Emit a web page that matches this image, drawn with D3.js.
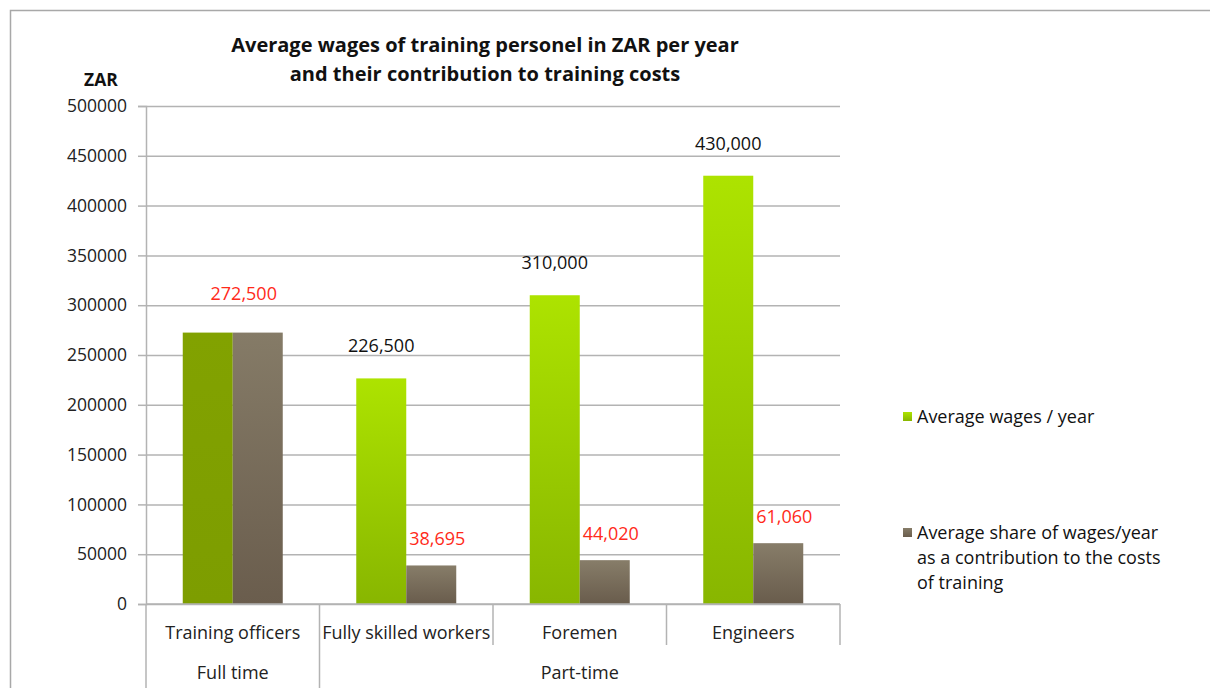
<!DOCTYPE html>
<html>
<head>
<meta charset="utf-8">
<script src="https://cdn.jsdelivr.net/npm/d3@7"></script>
<style>
  html, body { margin: 0; padding: 0; background: #fff; }
  svg { display: block; font-family: "Open Sans", Lato, sans-serif; }
</style>
</head>
<body>
<svg id="chart" width="1210" height="688"></svg>
<script>
// ---- data ----
const categories = ["Training officers", "Fully skilled workers", "Foremen", "Engineers"];
const categoryGroup = ["Full time", "Part-time", "Part-time", "Part-time"];
const groupNames = ["Full time", "Part-time"];
const seriesNames = ["Average wages / year", "Average share of wages/year as a contribution to the costs of training"];
const wages = [272500, 226500, 310000, 430000];
const contribution = [272500, 38695, 44020, 61060];
const yTicks = [0, 50000, 100000, 150000, 200000, 250000, 300000, 350000, 400000, 450000, 500000];
const titleLines = ["Average wages of training personel in ZAR per year", "and their contribution to training costs"];
const yUnit = "ZAR";

// ---- layout ----
const W = 1210, H = 688;
const plot = { left: 146, right: 840, top: 106, bottom: 604 };
const FS = 17.5;
const FL = 18;
const svg = d3.select("#chart");

// gradients
const defs = svg.append("defs");
function grad(id, c1, c2) {
  const g = defs.append("linearGradient").attr("id", id).attr("x1", 0).attr("y1", 0).attr("x2", 0).attr("y2", 1);
  g.append("stop").attr("offset", "0%").attr("stop-color", c1);
  g.append("stop").attr("offset", "100%").attr("stop-color", c2);
}
grad("gGreen", "#ade300", "#88b600");
grad("gBrown", "#877d69", "#695c4c");
grad("gOlive", "#82a200", "#7d9d00");
grad("gBrownFull", "#857b67", "#6a5d4d");

// outer border
svg.append("rect").attr("x", 10.5).attr("y", 10.5).attr("width", W).attr("height", H)
  .attr("fill", "none").attr("stroke", "#a8a8a8").attr("stroke-width", 1.5);

const y = d3.scaleLinear().domain([0, 500000]).range([plot.bottom, plot.top]);
const x0 = d3.scaleBand().domain(categories).range([plot.left, plot.right]).paddingInner(0).paddingOuter(0);
const x1 = d3.scaleBand().domain([0, 1]).range([0, x0.bandwidth()]).paddingInner(0).paddingOuter(0.735);

// gridlines
svg.append("g").attr("transform", `translate(${plot.left},0)`)
  .call(d3.axisLeft(y).tickValues(yTicks).tickSize(-(plot.right - plot.left)).tickFormat(""))
  .call(g => g.select(".domain").remove())
  .call(g => g.selectAll("line").attr("stroke", "#b3b3b3").attr("stroke-width", 1.5));

// y axis
svg.append("g").attr("transform", `translate(${plot.left},0)`)
  .call(d3.axisLeft(y).tickValues(yTicks).tickSize(8).tickPadding(11).tickFormat(d3.format("d")))
  .call(g => g.select(".domain").attr("stroke", "#b3b3b3").attr("stroke-width", 1.5))
  .call(g => g.selectAll("line").attr("stroke", "#b3b3b3").attr("stroke-width", 1.5))
  .call(g => g.selectAll("text").attr("font-size", FS).attr("fill", "#222").attr("font-family", "'Open Sans', Lato, sans-serif"));

// bars
const barData = [];
categories.forEach((c, i) => {
  barData.push({ cat: c, i, s: 0, v: wages[i] });
  barData.push({ cat: c, i, s: 1, v: contribution[i] });
});
function fillFor(d) {
  if (categoryGroup[d.i] === groupNames[0]) return d.s === 0 ? "url(#gOlive)" : "url(#gBrownFull)";
  return d.s === 0 ? "url(#gGreen)" : "url(#gBrown)";
}
svg.append("g").selectAll("rect").data(barData).join("rect")
  .attr("x", d => x0(d.cat) + x1(d.s))
  .attr("width", x1.bandwidth())
  .attr("y", d => y(d.v))
  .attr("height", d => y(0) - y(d.v))
  .attr("fill", fillFor);

// x axis baseline
svg.append("line").attr("x1", plot.left).attr("x2", plot.right).attr("y1", y(0)).attr("y2", y(0))
  .attr("stroke", "#b3b3b3").attr("stroke-width", 1.5);

// category separators
const bounds = categories.map(c => x0(c)).concat([x0.range()[1]]);
bounds.forEach((bx, k) => {
  const isGroupEdge = k === 0 || k === bounds.length - 1 ? k === 0 :
    categoryGroup[k] !== categoryGroup[k - 1];
  svg.append("line").attr("x1", bx).attr("x2", bx).attr("y1", y(0))
    .attr("y2", isGroupEdge ? H : 645)
    .attr("stroke", "#b3b3b3").attr("stroke-width", 1.5);
});

// category labels
svg.append("g").selectAll("text").data(categories).join("text")
  .attr("x", d => x0(d) + x0.bandwidth() / 2)
  .attr("y", 639)
  .attr("text-anchor", "middle").attr("font-size", FL).attr("fill", "#222")
  .text(d => d);

// group labels
groupNames.forEach(gname => {
  const cats = categories.filter((c, i) => categoryGroup[i] === gname);
  const gx0 = x0(cats[0]);
  const gx1 = x0(cats[cats.length - 1]) + x0.bandwidth();
  svg.append("text").attr("x", (gx0 + gx1) / 2).attr("y", 679)
    .attr("text-anchor", "middle").attr("font-size", FL).attr("fill", "#222").text(gname);
});

// value labels
const fmt = d3.format(",");
categories.forEach((c, i) => {
  if (wages[i] === contribution[i]) {
    svg.append("text").attr("x", x0(c) + x0.bandwidth() / 2 + 11).attr("y", y(wages[i]) - 33)
      .attr("text-anchor", "middle").attr("font-size", FL).attr("fill", "#ff2a1a").text(fmt(wages[i]));
  } else {
    svg.append("text").attr("x", x0(c) + x1(0) + x1.bandwidth() / 2).attr("y", y(wages[i]) - 26)
      .attr("text-anchor", "middle").attr("font-size", FL).attr("fill", "#111").text(fmt(wages[i]));
    svg.append("text").attr("x", x0(c) + x1(1) + x1.bandwidth() / 2 + 6).attr("y", y(contribution[i]) - 20)
      .attr("text-anchor", "middle").attr("font-size", FL).attr("fill", "#ff2a1a").text(fmt(contribution[i]));
  }
});

// title
svg.append("text").attr("x", 485).attr("y", 52).attr("text-anchor", "middle")
  .attr("font-size", 20).attr("font-weight", "bold").attr("fill", "#111")
  .selectAll("tspan").data(titleLines).join("tspan")
  .attr("x", 485).attr("dy", (d, i) => i === 0 ? 0 : 29).text(d => d);

// unit label
svg.append("text").attr("x", 101).attr("y", 86).attr("text-anchor", "middle")
  .attr("font-size", FS).attr("font-weight", "bold").attr("fill", "#111").text(yUnit);

// legend
const legendColors = ["url(#gGreen)", "url(#gBrown)"];
const legendLines = [["Average wages / year"], ["Average share of wages/year", "as a contribution to the costs", "of training"]];
const legendY = [417, 533];
seriesNames.forEach((s, k) => {
  const g = svg.append("g");
  g.append("rect").attr("x", 903).attr("y", legendY[k] - 5).attr("width", 9).attr("height", 9).attr("fill", legendColors[k]);
  const t = g.append("text").attr("x", 917).attr("y", legendY[k] + 6).attr("font-size", FL).attr("fill", "#111");
  legendLines[k].forEach((ln, j) => {
    t.append("tspan").attr("x", 917).attr("dy", j === 0 ? 0 : 25).text(ln);
  });
});
</script>
</body>
</html>
